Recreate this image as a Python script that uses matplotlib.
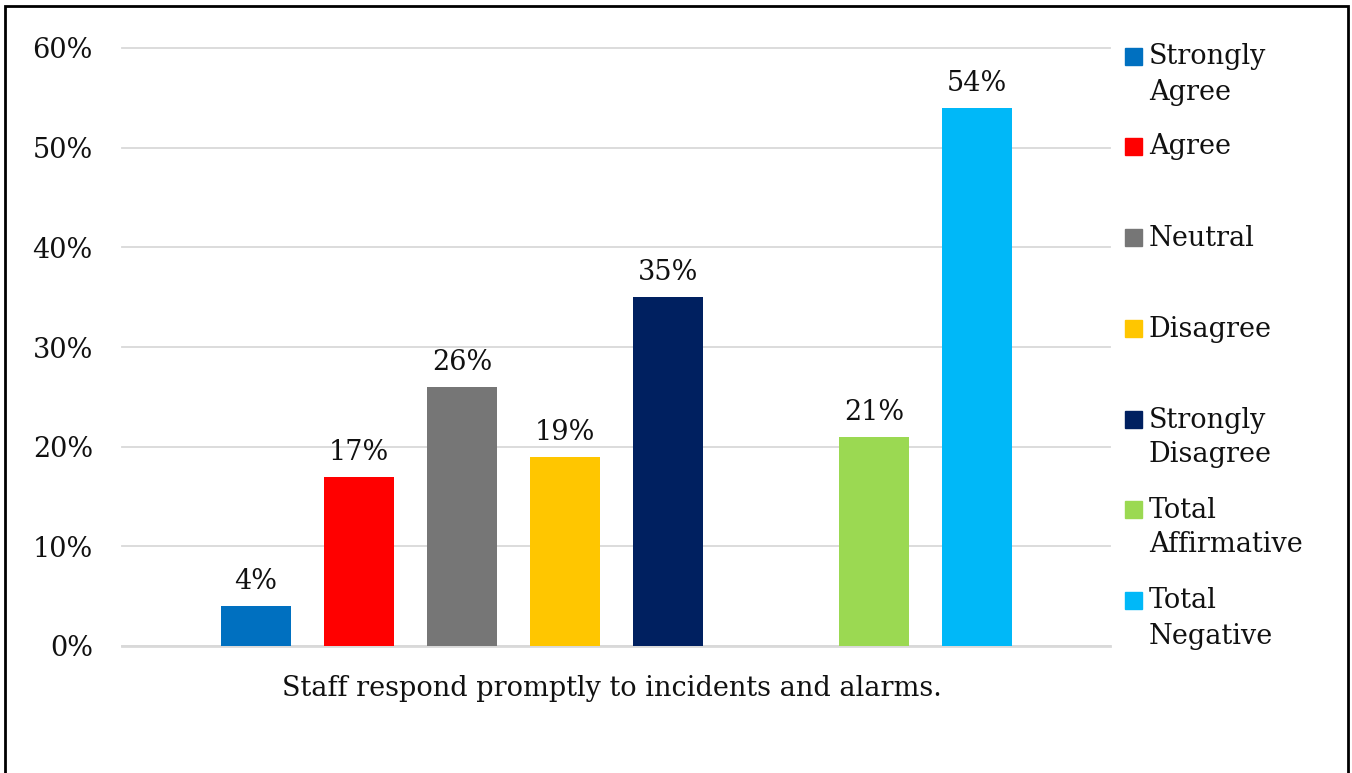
import matplotlib.pyplot as plt
from matplotlib.patches import Rectangle

# dados
series = ["Strongly\nAgree", "Agree", "Neutral", "Disagree", "Strongly\nDisagree",
          "Total\nAffirmative", "Total\nNegative"]
valores = [4, 17, 26, 19, 35, 21, 54]
posicoes = [0, 1, 2, 3, 4, 6, 7]
cores = ["#0070C0", "#FF0000", "#767676", "#FFC600", "#002060", "#9BD952", "#00B8F8"]
yticks = [0, 10, 20, 30, 40, 50, 60]
categoria = "Staff respond promptly to incidents and alarms."

plt.rcParams['font.family'] = ['DejaVu Serif']
fs = 19.5

W, H = 1352, 773
fig = plt.figure(figsize=(W / 100, H / 100), dpi=100)
ax = fig.add_axes([122 / W, 1 - 646 / H, (1110 - 122) / W, (646 - 48) / H])

ax.bar(posicoes, valores, width=0.68, color=cores, zorder=3)
for x, v in zip(posicoes, valores):
    ax.text(x, v + 1.1, f"{v}%", ha="center", va="bottom", fontsize=fs, color="#111111")

ax.set_xlim(-1.30, 8.29)
ax.set_ylim(0, 60)
ax.set_yticks(yticks)
ax.set_yticklabels([f"{t}%" for t in yticks], fontsize=fs, color="#111111")
ax.set_xticks([])
ax.grid(axis="y", color="#D9D9D9", linewidth=1.3, zorder=0)
for gl in ax.get_ygridlines():
    gl.set_clip_on(False)
ax.tick_params(axis="y", length=0, pad=21)
for s in ["left", "right", "top"]:
    ax.spines[s].set_visible(False)
ax.spines["bottom"].set_color("#D9D9D9")
ax.spines["bottom"].set_linewidth(2)

fig.text(612 / W, 1 - 686 / H, categoria, ha="center", va="center_baseline",
         fontsize=fs, color="#111111")

# legenda manual: centro da primeira linha de cada item
topos = [56, 146, 237, 328, 419, 509, 600]
for nome, cor, yt in zip(series, cores, topos):
    fig.patches.append(Rectangle((1125 / W, 1 - (yt + 9) / H), 17 / W, 17 / H,
                                 transform=fig.transFigure, color=cor))
    for i, linha in enumerate(nome.split("\n")):
        fig.text(1149 / W, 1 - (yt - 2 + 35 * i) / H, linha, ha="left", va="center_baseline",
                 fontsize=fs, color="#111111")

# moldura
fig.patches.append(Rectangle((5 / W, -0.01), (1348 - 5) / W, 1 - 6 / H + 0.01,
                             transform=fig.transFigure, fill=False, edgecolor="black", linewidth=2))

fig.savefig("out.png", dpi=100)
